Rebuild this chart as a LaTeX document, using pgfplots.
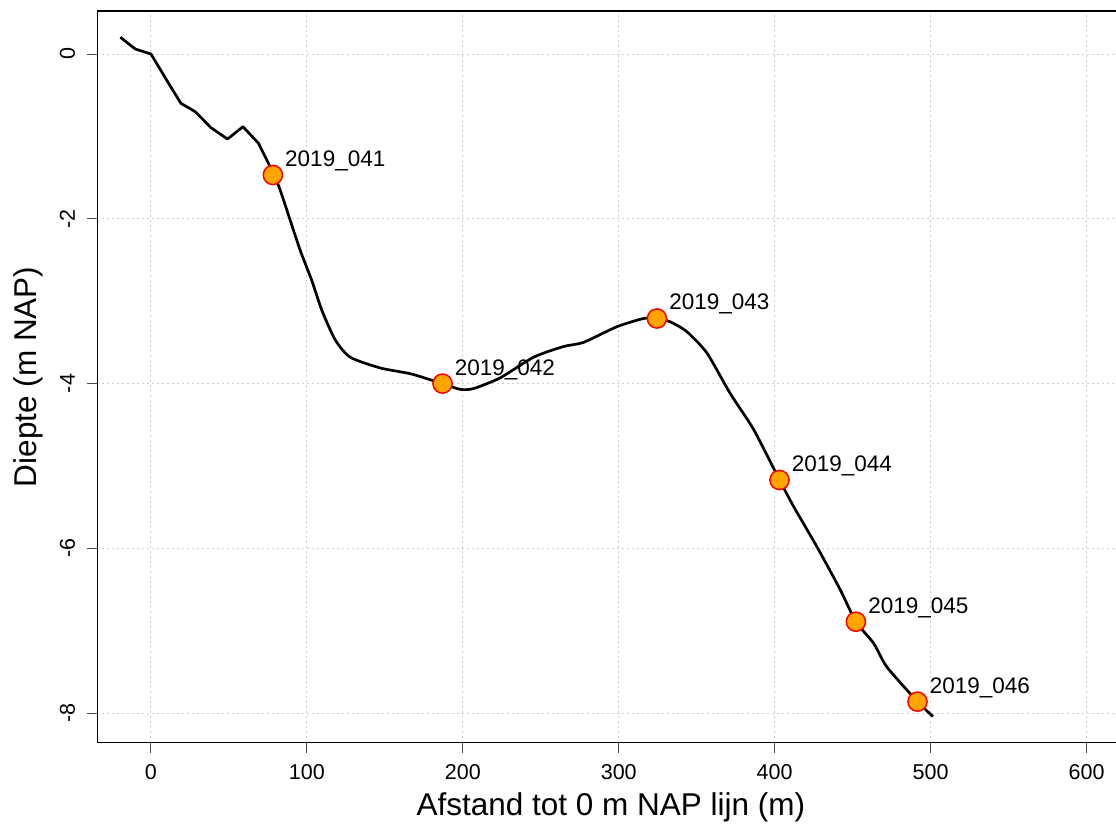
\documentclass[border=0pt]{standalone}
\usepackage{fontspec}
\setmainfont{Liberation Sans}
\usepackage{pgfplots}
\pgfplotsset{compat=1.18}

\definecolor{markfill}{RGB}{255,165,0}
\definecolor{gridgray}{RGB}{205,205,205}

\begin{document}
\begin{tikzpicture}
\begin{axis}[
  at={(0pt,0pt)}, anchor=south west,
  scale only axis, width=1027.3pt, height=731.5pt,
  xmin=-34.4, xmax=624.4, ymin=-8.356, ymax=0.522,
  xtick={0,100,200,300,400,500,600},
  ytick={-8,-6,-4,-2,0},
  grid=major,
  major grid style={gridgray, line width=0.9pt, dash pattern=on 2pt off 3pt},
  axis line style={black, line width=1.1pt},
  tick style={black!70, line width=1pt},
  tick align=outside, major tick length=10.5pt,
  xtick pos=bottom, ytick pos=left,
  /pgf/number format/assume math mode=true,
  ticklabel style={font=\fontsize{21.5}{26}\selectfont},
  xticklabel style={anchor=base, yshift=-26pt},
  yticklabel style={xshift=-12pt, rotate=90, anchor=base},
  xlabel={Afstand tot 0 m NAP lijn (m)},
  ylabel={Diepte (m NAP)},
  every axis x label/.style={at={(axis description cs:0.5,0)}, anchor=base, yshift=-72.5pt, font=\fontsize{31.5}{36}\selectfont},
  every axis y label/.style={at={(axis description cs:-0.0592,0.5)}, rotate=90, anchor=base, font=\fontsize{31.5}{36}\selectfont},
]
% bathymetric profile: measured nearshore part
\addplot[black, line width=2.7pt, line join=round] coordinates {
  (-19.6,0.203) (-10,0.06) (0,0) (10.7,-0.336) (19.2,-0.598) (28.4,-0.700)
  (38.5,-0.894) (49.1,-1.032) (59.0,-0.882) (69.0,-1.084) (75.9,-1.347)
  (78.2,-1.468)
};
% bathymetric profile: smoothed offshore part
\addplot[black, line width=2.7pt, line join=round, smooth, tension=0.4] coordinates {
  (78.2,-1.468) (82.5,-1.63) (95.3,-2.36) (103,-2.74) (109.6,-3.11)
  (118.2,-3.47) (127.8,-3.68) (147,-3.81) (166.3,-3.88) (180.2,-3.96)
  (187,-4.0) (198.4,-4.07) (207,-4.06) (224,-3.93) (245.4,-3.68)
  (264.6,-3.55) (277.4,-3.50) (298.8,-3.31) (315.9,-3.21) (324.5,-3.21)
  (333,-3.25) (343.7,-3.37) (356.6,-3.63) (371.5,-4.12) (386.6,-4.56)
  (403.1,-5.17) (412.1,-5.49) (427.1,-5.98) (442,-6.50) (452.1,-6.89)
  (463.4,-7.15) (472,-7.44) (491.6,-7.86) (501.5,-8.04)
};
% sample locations
\addplot[only marks, mark=*, mark size=9.6pt,
  mark options={fill=markfill, draw=red, line width=1.5pt},
  nodes near coords, point meta=explicit symbolic,
  every node near coord/.append style={anchor=base west, inner sep=0pt, xshift=11.6pt, yshift=8.5pt,
    font=\fontsize{22.5}{27}\selectfont, text=black}]
coordinates {
  (78.2,-1.468) [2019\_041]
  (187,-4.0) [2019\_042]
  (324.5,-3.21) [2019\_043]
  (403.1,-5.17) [2019\_044]
  (452.1,-6.89) [2019\_045]
  (491.6,-7.86) [2019\_046]
};
\end{axis}
\pgfresetboundingbox
\path[use as bounding box] (-97.3pt,-82.5pt) rectangle (1018.7pt,742.5pt);
\end{tikzpicture}
\end{document}
